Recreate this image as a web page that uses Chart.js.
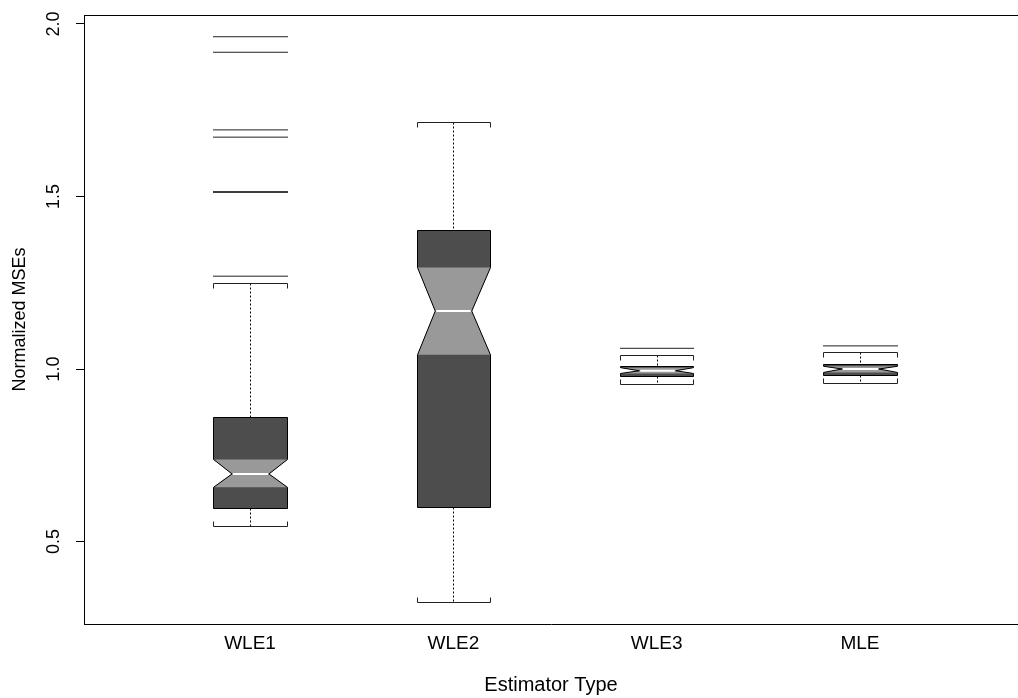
<!DOCTYPE html>
<html>
<head>
<meta charset="utf-8">
<script src="https://cdn.jsdelivr.net/npm/chart.js@4.4.1/dist/chart.umd.min.js"></script>
<style>
    html, body { margin: 0; padding: 0; background: #fff; }
    #wrap { width: 1018px; height: 698px; }
</style>
</head>
<body>
<div id="wrap"><canvas id="box-chart"></canvas></div>
<script>
// values
var categories = ["WLE1", "WLE2", "WLE3", "MLE"];
var whiskerLow = [0.545, 0.325, 0.957, 0.959];
var lowerHinge = [0.596, 0.600, 0.981, 0.983];
var notchLow = [0.657, 1.041, 0.987, 0.990];
var medians = [0.696, 1.168, 0.995, 1.000];
var notchHigh = [0.738, 1.294, 1.004, 1.008];
var upperHinge = [0.860, 1.403, 1.010, 1.014];
var whiskerHigh = [1.248, 1.717, 1.042, 1.048];
var outliers = [
    [1.269, 1.512, 1.514, 1.672, 1.693, 1.918, 1.963],
    [],
    [1.060],
    [1.067]
];
var yTicks = [0.5, 1.0, 1.5, 2.0];

var boxHalf = 0.18;   // half box width in x units
var capTick = 5;      // px
var darkFill = '#4d4d4d';
var lightFill = '#999999';

var sideFont = { family: 'Liberation Sans, Arial, sans-serif', size: 18 };
var tickFont = { family: 'Liberation Sans, Arial, sans-serif', size: 19 };
var titleFont = { family: 'Liberation Sans, Arial, sans-serif', size: 20 };

var boxPlot = {
    id: 'boxPlot',
    afterDatasetsDraw: function (chart) {
        var ctx = chart.ctx;
        var xs = chart.scales.x, ys = chart.scales.y;
        var area = chart.chartArea;
        ctx.save();

        // top of the frame
        ctx.strokeStyle = '#000';
        ctx.lineWidth = 1;
        ctx.beginPath();
        ctx.moveTo(area.left, Math.round(area.top) + 0.5);
        ctx.lineTo(area.right, Math.round(area.top) + 0.5);
        ctx.stroke();

        categories.forEach(function (name, i) {
            var c = Math.round(xs.getPixelForValue(i + 1)) + 0.5;
            var l = Math.round(xs.getPixelForValue(i + 1 - boxHalf)) + 0.5;
            var r = Math.round(xs.getPixelForValue(i + 1 + boxHalf)) + 0.5;
            var hw = (r - l) / 2;
            var yq1 = Math.round(ys.getPixelForValue(lowerHinge[i])) + 0.5;
            var yq3 = Math.round(ys.getPixelForValue(upperHinge[i])) + 0.5;
            var ymed = ys.getPixelForValue(medians[i]);
            var ynl = ys.getPixelForValue(notchLow[i]);
            var ynh = ys.getPixelForValue(notchHigh[i]);
            var ylo = Math.round(ys.getPixelForValue(whiskerLow[i])) + 0.5;
            var yhi = Math.round(ys.getPixelForValue(whiskerHigh[i])) + 0.5;

            // whiskers
            ctx.strokeStyle = '#000';
            ctx.lineWidth = 1;
            ctx.setLineDash([2, 2]);
            ctx.beginPath();
            ctx.moveTo(c, yhi);
            ctx.lineTo(c, yq3);
            ctx.moveTo(c, yq1);
            ctx.lineTo(c, ylo);
            ctx.stroke();
            ctx.setLineDash([]);

            // bracket caps
            ctx.strokeStyle = '#222';
            ctx.beginPath();
            ctx.moveTo(l, yhi + capTick);
            ctx.lineTo(l, yhi);
            ctx.lineTo(r, yhi);
            ctx.lineTo(r, yhi + capTick);
            ctx.moveTo(l, ylo - capTick);
            ctx.lineTo(l, ylo);
            ctx.lineTo(r, ylo);
            ctx.lineTo(r, ylo - capTick);
            ctx.stroke();

            // notched box, dark outside the notch band
            var outline = new Path2D();
            outline.moveTo(l, yq1);
            outline.lineTo(l, ynl);
            outline.lineTo(c - hw / 2, ymed);
            outline.lineTo(l, ynh);
            outline.lineTo(l, yq3);
            outline.lineTo(r, yq3);
            outline.lineTo(r, ynh);
            outline.lineTo(c + hw / 2, ymed);
            outline.lineTo(r, ynl);
            outline.lineTo(r, yq1);
            outline.closePath();
            ctx.fillStyle = darkFill;
            ctx.fill(outline);

            // lighter notch band
            ctx.beginPath();
            ctx.moveTo(l, ynh);
            ctx.lineTo(r, ynh);
            ctx.lineTo(c + hw / 2, ymed);
            ctx.lineTo(r, ynl);
            ctx.lineTo(l, ynl);
            ctx.lineTo(c - hw / 2, ymed);
            ctx.closePath();
            ctx.fillStyle = lightFill;
            ctx.fill();

            ctx.strokeStyle = '#000';
            ctx.stroke(outline);

            // median
            ctx.strokeStyle = '#fff';
            ctx.lineWidth = 2;
            ctx.beginPath();
            ctx.moveTo(c - hw / 2 + 1, ymed);
            ctx.lineTo(c + hw / 2 - 1, ymed);
            ctx.stroke();

            // outliers drawn as short lines
            ctx.strokeStyle = '#222';
            ctx.lineWidth = 1;
            outliers[i].forEach(function (v) {
                var y = ys.getPixelForValue(v);
                ctx.beginPath();
                ctx.moveTo(l - 0.5, y);
                ctx.lineTo(r + 0.5, y);
                ctx.stroke();
            });
        });
        ctx.restore();
    }
};

new Chart(document.getElementById("box-chart"), {
    type: 'scatter',
    data: {
        datasets: [{
            label: 'Median',
            data: medians.map(function (m, i) { return { x: i + 1, y: m }; }),
            pointRadius: 0,
            showLine: false
        }]
    },
    options: {
        responsive: true,
        maintainAspectRatio: false,
        animation: false,
        layout: { padding: { top: 15, left: 0, right: 0, bottom: 0 } },
        plugins: {
            legend: { display: false },
            tooltip: { enabled: false }
        },
        scales: {
            x: {
                type: 'linear',
                min: 0.1836,
                max: 4.777,
                afterBuildTicks: function (s) {
                    s.ticks = categories.map(function (c, i) { return { value: i + 1 }; });
                },
                afterFit: function (s) {
                    s.height = 74;
                    s.paddingLeft = 0;
                    s.paddingRight = 0;
                },
                grid: { display: true, drawOnChartArea: false, drawTicks: false },
                border: { display: true, color: '#000', width: 1 },
                ticks: {
                    autoSkip: false,
                    maxRotation: 0,
                    padding: 8,
                    color: '#000',
                    font: tickFont,
                    callback: function (v) { return categories[v - 1]; }
                },
                title: {
                    display: true,
                    text: 'Estimator Type',
                    color: '#000',
                    font: titleFont,
                    padding: { top: 0, bottom: 1 }
                }
            },
            y: {
                min: 0.261,
                max: 2.026,
                afterBuildTicks: function (s) {
                    s.ticks = yTicks.map(function (v) { return { value: v }; });
                },
                afterFit: function (s) {
                    s.width = 84;
                    s.paddingTop = 0;
                    s.paddingBottom = 0;
                },
                grid: { drawOnChartArea: false, tickLength: 8, tickColor: '#000' },
                border: { display: true, color: '#000', width: 1 },
                ticks: {
                    minRotation: 90,
                    maxRotation: 90,
                    crossAlign: 'center',
                    padding: 9,
                    color: '#000',
                    font: sideFont,
                    callback: function (v) { return v.toFixed(1); }
                },
                title: {
                    display: true,
                    text: 'Normalized MSEs',
                    color: '#000',
                    font: sideFont,
                    padding: { top: 9, bottom: 0 }
                }
            }
        }
    },
    plugins: [boxPlot]
});
</script>
</body>
</html>
